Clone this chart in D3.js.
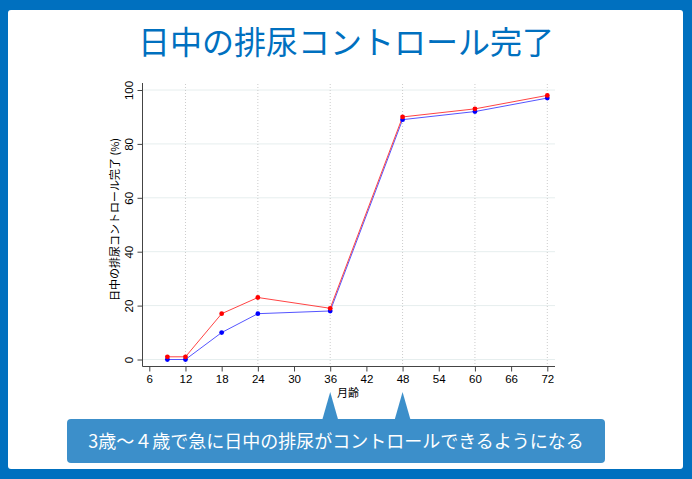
<!DOCTYPE html>
<html><head><meta charset="utf-8">
<script src="https://cdn.jsdelivr.net/npm/d3@7"></script>
<style>
body{margin:0;padding:0;background:#0070bf;}
svg{display:block;}
</style></head>
<body>
<svg id="c" width="692" height="479"></svg>
<script>
const months = [9, 12, 18, 24, 36, 48, 60, 72];
const redValues = [1, 1, 17, 23, 19, 90, 93, 98];
const blueValues = [0, 0, 10, 17, 18, 89, 92, 97];
const xTicks = [6, 12, 18, 24, 30, 36, 42, 48, 54, 60, 66, 72];
const xGrid = [12, 24, 36, 48, 60, 72];
const yTicks = [0, 20, 40, 60, 80, 100];
const titleText = "日中の排尿コントロール完了";
const yTitle = "日中の排尿コントロール完了 (%)";
const xTitle = "月齢";
const calloutText = "3歳～４歳で急に日中の排尿がコントロールできるようになる";
const calloutMonths = [36, 48];

const svg = d3.select("#c");
const cjk = "'Noto Sans CJK JP', 'Noto Sans', sans-serif";
const num = "'Liberation Sans', Arial, sans-serif";

svg.append("rect").attr("x",0).attr("y",0).attr("width",692).attr("height",479).attr("fill","#0070bf");
svg.append("rect").attr("x",8).attr("y",10).attr("width",675).attr("height",459).attr("rx",3).attr("fill","#ffffff");

svg.append("text").attr("x",346).attr("y",54).attr("text-anchor","middle")
  .attr("font-family",cjk).attr("font-size",32).attr("fill","#0070bf").text(titleText);

const x = d3.scaleLinear().domain([6,72]).range([149.3,547.3]);
const y = d3.scaleLinear().domain([0,100]).range([359.5,90]);

const g = svg.append("g");
// horizontal grid
g.selectAll(".hg").data(yTicks).enter().append("line")
  .attr("x1",143).attr("x2",555).attr("y1",d=>y(d)).attr("y2",d=>y(d))
  .attr("stroke","#e6eeee").attr("stroke-width",1);
// vertical grid
g.selectAll(".vg").data(xGrid).enter().append("line")
  .attr("x1",d=>x(d)).attr("x2",d=>x(d)).attr("y1",84).attr("y2",366)
  .attr("stroke","#cccccc").attr("stroke-width",1).attr("stroke-dasharray","1,2");

// axes
const xAxis = d3.axisBottom(x).tickValues(xTicks).tickSize(5).tickPadding(3);
const yAxis = d3.axisLeft(y).tickValues(yTicks).tickSize(5).tickPadding(3);
const gx = svg.append("g").attr("transform","translate(0,366.5)").call(xAxis);
gx.select(".domain").attr("d","M142.5,0H555").attr("stroke","#444");
gx.selectAll(".tick line").attr("stroke","#444");
gx.selectAll("text").attr("font-family",num).attr("font-size",11.5).attr("fill","#000");
const gy = svg.append("g").attr("transform","translate(142.5,0)").call(yAxis);
gy.select(".domain").attr("d","M0,83V366.5").attr("stroke","#444");
gy.selectAll(".tick line").attr("stroke","#444");
gy.selectAll(".tick text").attr("font-family",num).attr("font-size",11.5).attr("fill","#000")
  .attr("text-anchor","middle").attr("x",-14).attr("dy",0).attr("y",0)
  .attr("transform","rotate(-90)")
  .each(function(){ const t=d3.select(this); t.attr("x",0).attr("y",-10); });
gy.selectAll(".tick text").attr("dominant-baseline","auto");

svg.append("text").attr("transform","translate(119,219.5) rotate(-90)").attr("text-anchor","middle")
  .attr("font-family",cjk).attr("font-size",11).attr("fill","#000").text(yTitle);
svg.append("text").attr("x",348).attr("y",397).attr("text-anchor","middle")
  .attr("font-family",cjk).attr("font-size",11).attr("fill","#000").text(xTitle);

// series
const line = d3.line().x(d=>x(d[0])).y(d=>y(d[1]));
const series = [
  {vals: blueValues, color:"#0000ff", lc:"#5555ff"},
  {vals: redValues, color:"#ff0000", lc:"#ff4444"}
];
series.forEach(s=>{
  const pts = months.map((m,i)=>[m,s.vals[i]]);
  svg.append("path").attr("d",line(pts)).attr("fill","none").attr("stroke",s.lc).attr("stroke-width",1);
});
series.forEach(s=>{
  const pts = months.map((m,i)=>[m,s.vals[i]]);
  svg.selectAll(null).data(pts).enter().append("circle")
    .attr("cx",d=>x(d[0])).attr("cy",d=>y(d[1])).attr("r",2.4).attr("fill",s.color);
});

// callout
const co = "#3c8fca";
calloutMonths.forEach(m=>{
  const cx = x(m);
  svg.append("path").attr("d",`M${cx},392L${cx+8},420L${cx-8},420Z`).attr("fill",co);
});
svg.append("rect").attr("x",67).attr("y",419).attr("width",538).attr("height",44).attr("rx",4).attr("fill",co);
svg.append("text").attr("x",336).attr("y",447.5).attr("text-anchor","middle")
  .attr("font-family",cjk).attr("font-size",18).attr("fill","#ffffff").text(calloutText);
</script>
</body></html>
